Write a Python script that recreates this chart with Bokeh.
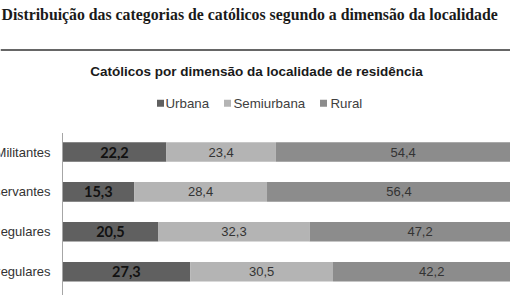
from bokeh.plotting import figure
from bokeh.models import Range1d, ColumnDataSource
from bokeh.core.properties import value
from bokeh.embed import file_html
from bokeh.resources import INLINE

# ---- data ----
categories = ["Militantes", "Observantes", "Regulares", "Irregulares"]
series_names = ["Urbana", "Semiurbana", "Rural"]
urbana = [22.2, 15.3, 20.5, 27.3]
semiurbana = [23.4, 28.4, 32.3, 30.5]
rural = [54.4, 56.4, 47.2, 42.2]

page_title = "Distribuição das categorias de católicos segundo a dimensão da localidade"
chart_title = "Católicos por dimensão da localidade de residência"

# ---- layout helpers (pixel -> data) ----
W, H = 510, 295
X0 = 62.0          # pixel of 0 %
PX_PER_PCT = 4.68
ROW0 = 151.5       # pixel centre of first row
ROW_STEP = 39.9

def xd(px):
    return (px - X0) / PX_PER_PCT

def yd(py):
    return (py - ROW0) / ROW_STEP

colors = ["#606060", "#b4b4b4", "#8c8c8c"]

p = figure(width=W, height=H, output_backend="svg", toolbar_location=None,
           x_range=Range1d(xd(0), xd(W)), y_range=Range1d(yd(H), yd(0)),
           min_border=0, min_border_left=0, min_border_right=0,
           min_border_top=0, min_border_bottom=0)
p.axis.visible = False
p.grid.visible = False
p.outline_line_color = None
p.background_fill_color = "white"
p.border_fill_color = "white"

rows = list(range(len(categories)))
u_right = [u for u in urbana]
s_left = u_right
s_right = [u + s for u, s in zip(urbana, semiurbana)]
r_left = s_right
r_right = [u + s + r for u, s, r in zip(urbana, semiurbana, rural)]

src = ColumnDataSource(dict(y=rows, u0=[0] * len(rows), u1=u_right,
                            s0=s_left, s1=s_right, r0=r_left, r1=r_right))
BAR_H = 0.49
p.hbar(y="y", left="u0", right="u1", height=BAR_H, fill_color=colors[0], line_color=None, source=src)
p.hbar(y="y", left="s0", right="s1", height=BAR_H, fill_color=colors[1], line_color=None, source=src)
p.hbar(y="y", left="r0", right="r1", height=BAR_H, fill_color=colors[2], line_color=None, source=src)

# value labels
def fmt(v):
    return f"{v:.1f}".replace(".", ",")

p.text(x=[(a + b) / 2 for a, b in zip([0] * 4, u_right)], y=rows, text=[fmt(v) for v in urbana],
       text_align="center", text_baseline="middle", text_font=value("Lato"),
       text_font_size="14.5px", text_font_style="bold", text_color="#111111")
p.text(x=[(a + b) / 2 for a, b in zip(s_left, s_right)], y=rows, text=[fmt(v) for v in semiurbana],
       text_align="center", text_baseline="middle", text_font=value("Liberation Sans"),
       text_font_size="13px", text_color="#333333")
p.text(x=[(a + b) / 2 for a, b in zip(r_left, r_right)], y=rows, text=[fmt(v) for v in rural],
       text_align="center", text_baseline="middle", text_font=value("Liberation Sans"),
       text_font_size="13px", text_color="#333333")

# category labels (clipped at left like the reference)
p.text(x=[xd(50)] * 4, y=rows, text=categories, text_align="right", text_baseline="middle",
       text_font=value("Liberation Sans"), text_font_size="13px", text_color="#333333")

# vertical axis line
p.segment(x0=[0], y0=[yd(132.5)], x1=[0], y1=[yd(H)], line_color="#a6a6a6", line_width=1)

# page title and rule
p.text(x=[xd(1)], y=[yd(14)], text=[page_title], text_align="left", text_baseline="middle",
       text_font=value("Liberation Serif"), text_font_size="15.8px", text_font_style="bold",
       text_color="#1a1a1a")
p.segment(x0=[xd(0)], y0=[yd(49.5)], x1=[xd(W)], y1=[yd(49.5)], line_color="#333333", line_width=1.3)

# chart title
p.text(x=[xd(256)], y=[yd(71)], text=[chart_title], text_align="center", text_baseline="middle",
       text_font=value("Liberation Sans"), text_font_size="13.5px", text_font_style="bold",
       text_color="#1a1a1a")

# legend
leg_sq_px = [160, 227, 323]
leg_txt_px = [165, 233, 330]
p.scatter(x=[xd(v) for v in leg_sq_px], y=[yd(102.7)] * 3, marker="square", size=7,
          fill_color=colors, line_color=None)
p.text(x=[xd(v) for v in leg_txt_px], y=[yd(102.7)] * 3, text=series_names, text_align="left",
       text_baseline="middle", text_font=value("Liberation Sans"), text_font_size="13.3px",
       text_color="#404040")

open("out.html", "w").write(file_html(p, INLINE))
